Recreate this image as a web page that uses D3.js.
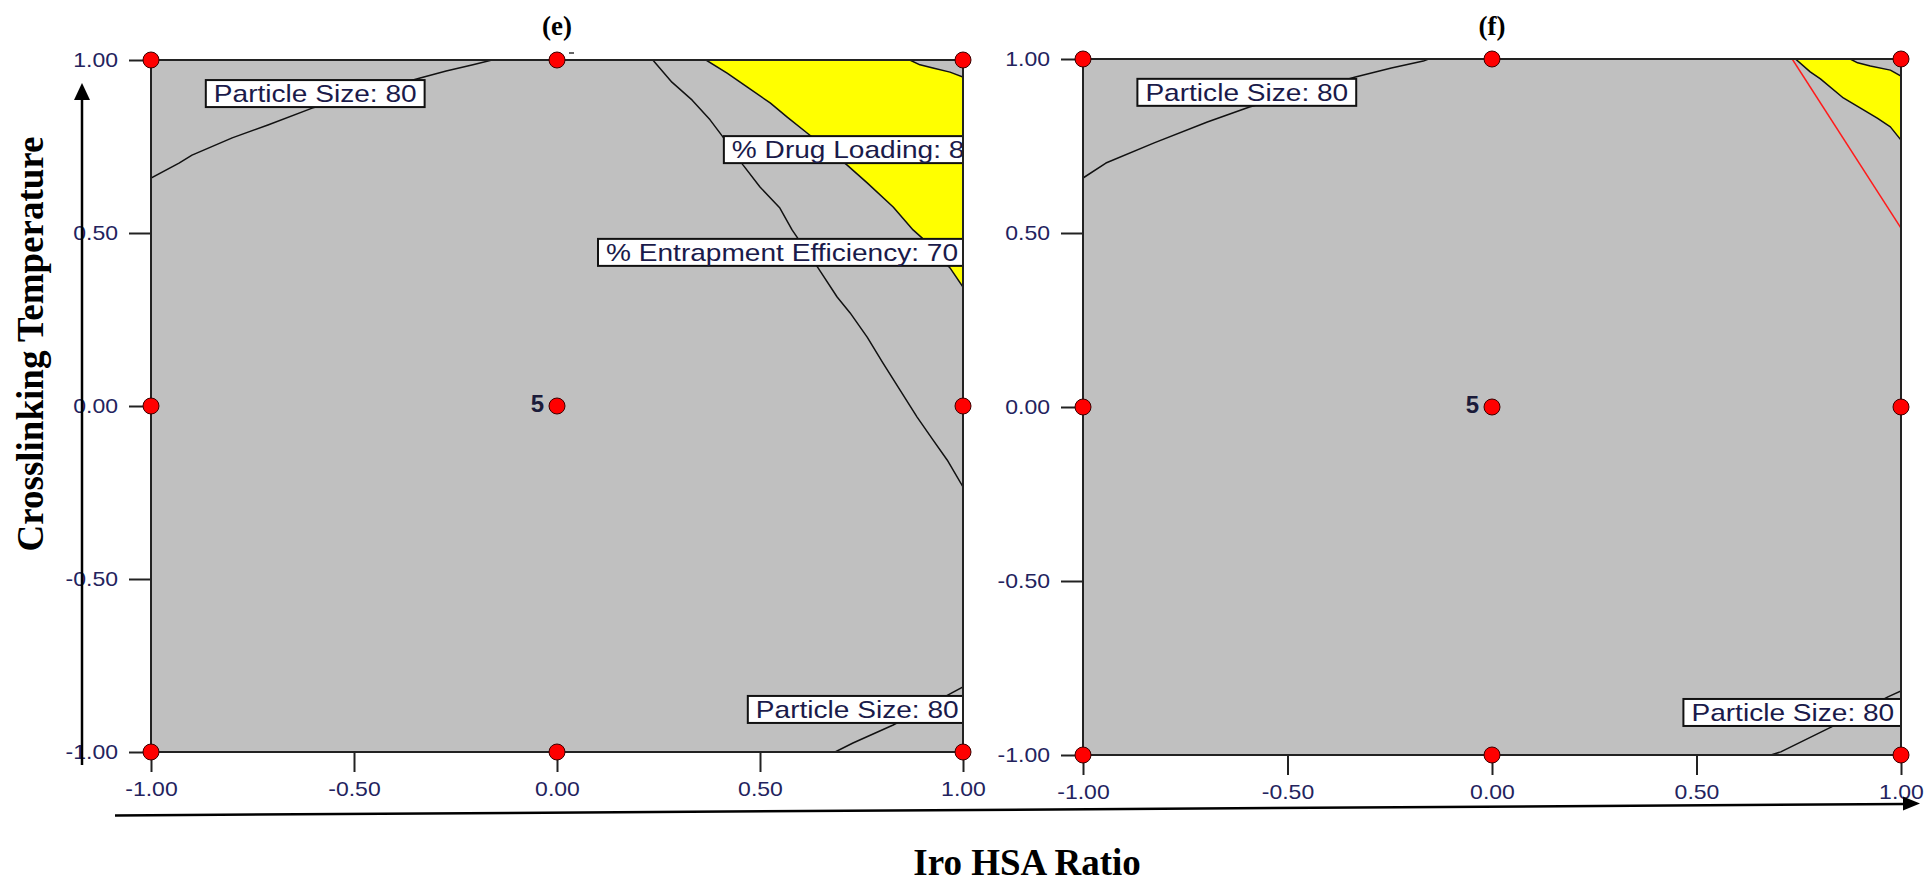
<!DOCTYPE html>
<html>
<head>
<meta charset="utf-8">
<script src="https://cdn.jsdelivr.net/npm/d3@7"></script>
<style>
  html, body { margin: 0; padding: 0; background: #ffffff; }
  svg { display: block; }
</style>
</head>
<body>
<svg id="chart" width="1927" height="879"></svg>
<script>
// ---------------- DATA ----------------
const xTickValues = [-1, -0.5, 0, 0.5, 1];
const yTickValues = [-1, -0.5, 0, 0.5, 1];
const panelTitles = ["(e)", "(f)"];
const xAxisTitle = "Iro HSA Ratio";
const yAxisTitle = "Crosslinking Temperature";
const designPoints = [[-1,-1],[-1,0],[-1,1],[0,-1],[0,0],[0,1],[1,-1],[1,0],[1,1]];
const centerReplicates = "5";

// Panel (e) contours (coded units)
const eParticleTop = [[-1,0.659],[-0.931,0.702],[-0.899,0.725],[-0.800,0.775],[-0.712,0.812],[-0.603,0.861],[-0.337,0.948],[-0.273,0.968],[-0.207,0.986],[-0.160,1]];
const eParticleBottom = [[0.685,-1],[0.729,-0.974],[0.828,-0.922],[0.968,-0.832],[1,-0.812]];
const eEntrapment = [[0.236,1],[0.283,0.936],[0.333,0.884],[0.377,0.827],[0.409,0.777],[0.458,0.697],[0.500,0.633],[0.549,0.572],[0.579,0.509],[0.643,0.399],[0.690,0.315],[0.722,0.269],[0.764,0.199],[0.803,0.124],[0.845,0.046],[0.887,-0.032],[0.926,-0.098],[0.961,-0.156],[1,-0.234]];
const eDrugLoading = [[0.367,1],[0.419,0.962],[0.468,0.922],[0.525,0.876],[0.567,0.835],[0.616,0.789],[0.714,0.697],[0.764,0.645],[0.828,0.575],[0.877,0.509],[0.899,0.486],[0.968,0.399],[1,0.344]];
const eCorner = [[0.869,1],[0.894,0.986],[0.926,0.977],[0.968,0.965],[1,0.951]];
const eLabels = [
  {text: "Particle Size: 80", x: -0.865, y: 0.942},
  {text: "% Drug Loading: 8", x: 0.411, y: 0.780},
  {text: "% Entrapment Efficiency: 70", x: 0.101, y: 0.483},
  {text: "Particle Size: 80", x: 0.470, y: -0.838}
];

// Panel (f) contours (coded units)
const fParticleTop = [[-1,0.658],[-0.944,0.701],[-0.826,0.759],[-0.696,0.819],[-0.593,0.862],[-0.334,0.948],[-0.246,0.974],[-0.168,0.994],[-0.155,1]];
const fParticleBottom = [[0.682,-1],[0.706,-0.991],[0.829,-0.920],[0.968,-0.833],[1,-0.816]];
const fBoundary = [[0.742,1],[0.778,0.963],[0.803,0.943],[0.859,0.888],[0.901,0.859],[0.942,0.830],[0.974,0.805],[1,0.767]];
const fCorner = [[0.876,1],[0.894,0.989],[0.925,0.980],[0.974,0.968],[1,0.951]];
const fRedLine = [[0.734,1],[1,0.514]];
const fLabels = [
  {text: "Particle Size: 80", x: -0.867, y: 0.943},
  {text: "Particle Size: 80", x: 0.468, y: -0.839}
];

// ---------------- DRAWING ----------------
const svg = d3.select("#chart");
const GRAY = "#c0c0c0", YELLOW = "#ffff00";
const tickColor = "#23235e";
const fmt0 = d3.format(".2f");
const fmt = d => fmt0(d).replace("\u2212", "-");

const panels = [
  {id: "e", title: panelTitles[0], frame: {l: 151, r: 963, t: 60, b: 752},
   yellow: eDrugLoading.concat(eCorner.slice().reverse()),
   black: [eParticleTop, eParticleBottom, eEntrapment, eDrugLoading, eCorner],
   red: [], labels: eLabels},
  {id: "f", title: panelTitles[1], frame: {l: 1083, r: 1901, t: 59, b: 755},
   yellow: fBoundary.concat(fCorner.slice().reverse()),
   black: [fParticleTop, fParticleBottom, fBoundary, fCorner],
   red: [fRedLine], labels: fLabels}
];

panels.forEach(p => {
  const f = p.frame;
  const x = d3.scaleLinear().domain([-1, 1]).range([f.l, f.r]);
  const y = d3.scaleLinear().domain([-1, 1]).range([f.b, f.t]);
  const g = svg.append("g");
  const clipId = "clip-" + p.id;
  g.append("clipPath").attr("id", clipId)
    .append("rect").attr("x", f.l).attr("y", f.t).attr("width", f.r - f.l).attr("height", f.b - f.t);

  const inner = g.append("g").attr("clip-path", `url(#${clipId})`);
  inner.append("rect").attr("x", f.l).attr("y", f.t).attr("width", f.r - f.l).attr("height", f.b - f.t)
    .attr("fill", GRAY);

  const line = d3.line().x(d => x(d[0])).y(d => y(d[1]));
  inner.append("path").attr("d", line(p.yellow) + "Z").attr("fill", YELLOW).attr("stroke", "none");
  p.black.forEach(c => inner.append("path").attr("d", line(c)).attr("fill", "none")
    .attr("stroke", "#111").attr("stroke-width", 1.5).attr("stroke-linejoin", "round"));
  p.red.forEach(c => inner.append("path").attr("d", line(c)).attr("fill", "none")
    .attr("stroke", "#ff1a1a").attr("stroke-width", 1.5));

  // frame
  g.append("rect").attr("x", f.l).attr("y", f.t).attr("width", f.r - f.l).attr("height", f.b - f.t)
    .attr("fill", "none").attr("stroke", "#222").attr("stroke-width", 2);

  // contour labels
  p.labels.forEach(lb => {
    const lg = inner.append("g").attr("transform", `translate(${x(lb.x)},${y(lb.y)})`);
    const rect = lg.append("rect").attr("x", 0).attr("y", 0).attr("height", 27)
      .attr("fill", "#fff").attr("stroke", "#111").attr("stroke-width", 2);
    const t = lg.append("text").attr("transform", "translate(8,22) scale(1.17,1)")
      .attr("font-family", "Liberation Sans, Arial, sans-serif").attr("font-size", 24)
      .attr("fill", "#1a1a4a").text(lb.text);
    const w = t.node().getComputedTextLength() * 1.17;
    rect.attr("width", w + 16);
  });

  // axes
  const xAxis = d3.axisBottom(x).tickValues(xTickValues).tickFormat(fmt).tickSize(20).tickPadding(10);
  const yAxis = d3.axisLeft(y).tickValues(yTickValues).tickFormat(fmt).tickSize(22).tickPadding(10);
  const gx = g.append("g").attr("transform", `translate(0,${f.b})`).call(xAxis);
  const gy = g.append("g").attr("transform", `translate(${f.l},0)`).call(yAxis);
  [gx, gy].forEach(a => {
    a.select(".domain").remove();
    a.selectAll(".tick line").attr("stroke", "#222").attr("stroke-width", 2);
    a.selectAll(".tick text").attr("font-family", "Liberation Sans, Arial, sans-serif")
      .attr("font-size", 20).attr("fill", tickColor);
  });
  gx.selectAll(".tick text").attr("transform", "scale(1.15,1)");
  gy.selectAll(".tick text").attr("x", null).attr("transform", "translate(-33,0) scale(1.15,1)");

  // design points
  g.selectAll("circle.pt").data(designPoints).enter().append("circle").attr("class", "pt")
    .attr("cx", d => x(d[0])).attr("cy", d => y(d[1])).attr("r", 8)
    .attr("fill", "#ff0000").attr("stroke", "#3a0000").attr("stroke-width", 1);

  // center replicate count
  g.append("text").attr("x", x(0) - 13).attr("y", y(0) + 6).attr("text-anchor", "end")
    .attr("font-family", "Liberation Sans, Arial, sans-serif").attr("font-size", 24).attr("font-weight", "bold")
    .attr("fill", "#1b1b3a").text(centerReplicates);

  // panel title
  g.append("text").attr("x", x(0)).attr("y", 35).attr("text-anchor", "middle")
    .attr("font-family", "Liberation Serif, Times New Roman, serif").attr("font-size", 27).attr("font-weight", "bold")
    .attr("fill", "#000").text(p.title);

  if (p.id === "e") {
    g.append("line").attr("x1", x(0) + 12).attr("x2", x(0) + 17).attr("y1", 53).attr("y2", 53)
      .attr("stroke", "#333").attr("stroke-width", 1.5);
  }
});

// Axis arrows
svg.append("line").attr("x1", 82).attr("x2", 82).attr("y1", 765).attr("y2", 98)
  .attr("stroke", "#000").attr("stroke-width", 2.5);
svg.append("path").attr("d", "M82,83 L74,100 L90,100 Z").attr("fill", "#000");
svg.append("line").attr("x1", 115).attr("y1", 815.5).attr("x2", 1905).attr("y2", 804)
  .attr("stroke", "#000").attr("stroke-width", 2.5);
svg.append("path").attr("d", "M1920,803.5 L1903,796.5 L1903,810.5 Z").attr("fill", "#000");

// Axis titles
svg.append("text").attr("x", 1027).attr("y", 875).attr("text-anchor", "middle")
  .attr("font-family", "Liberation Serif, Times New Roman, serif").attr("font-size", 37).attr("font-weight", "bold")
  .text(xAxisTitle);
svg.append("text").attr("transform", "translate(43,344) rotate(-90)").attr("text-anchor", "middle")
  .attr("font-family", "Liberation Serif, Times New Roman, serif").attr("font-size", 37).attr("font-weight", "bold")
  .text(yAxisTitle);
</script>
</body>
</html>
